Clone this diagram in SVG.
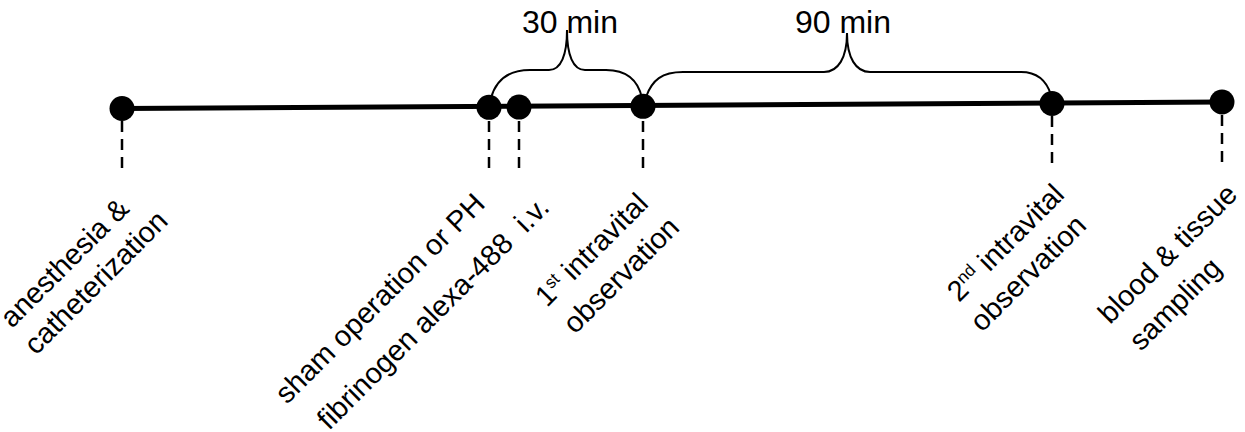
<svg xmlns="http://www.w3.org/2000/svg" width="1245" height="432" viewBox="0 0 1245 432">
<style>
text{font-family:"Liberation Sans",Arial,sans-serif;fill:#000}
.lbl{font-size:29px}
.big{font-size:32px}
.sup{font-size:17px}
.dash{stroke:#000;stroke-width:2.5;stroke-dasharray:11 7;fill:none}
.brace{stroke:#000;stroke-width:2;fill:none}
.dot{fill:#000}
</style>
<rect width="1245" height="432" fill="#fff"/>
<g id="connectors">
<line x1="122" y1="108.5" x2="1222" y2="102" stroke="#000" stroke-width="5"/>
<line class="dash" x1="122" y1="121" x2="122" y2="170"/>
<line class="dash" x1="489" y1="121" x2="489" y2="170"/>
<line class="dash" x1="519" y1="121" x2="519" y2="170"/>
<line class="dash" x1="643" y1="121" x2="643" y2="170"/>
<line class="dash" x1="1052" y1="116" x2="1052" y2="164"/>
<line class="dash" x1="1222" y1="115" x2="1222" y2="163"/>
<path class="brace" d="M491,98 C496,80 508,70 530,70 L549,70 C561,70 567,55 567,30 C567,55 573,70 585,70 L606,70 C626,70 638,80 642,98"/>
<path class="brace" d="M646,97 C652,80 662,72 683,72 L824,72 C838,72 847,58 847,33 C847,58 856,72 870,72 L1021,72 C1038,72 1047,82 1051,95"/>
</g>
<g id="label-30"><text class="big" x="570" y="33" text-anchor="middle">30 min</text></g>
<g id="label-90"><text class="big" x="843" y="33" text-anchor="middle">90 min</text></g>
<g id="n1">
<circle class="dot" cx="122" cy="108.5" r="12.5"/>
<text class="lbl" transform="translate(12,329) rotate(-45)">anesthesia &amp;</text>
<text class="lbl" transform="translate(36,356) rotate(-45)">catheterization</text>
</g>
<g id="n2">
<circle class="dot" cx="489" cy="107.3" r="12.5"/>
<text class="lbl" transform="translate(287,405) rotate(-45)">sham operation or PH</text>
</g>
<g id="n3">
<circle class="dot" cx="519" cy="107.1" r="12.5"/>
<text class="lbl" xml:space="preserve" transform="translate(329,431) rotate(-45)">fibrinogen alexa-488  i.v.</text>
</g>
<g id="n4">
<circle class="dot" cx="643" cy="106.3" r="12.5"/>
<text class="lbl" transform="translate(547,308) rotate(-45)">1<tspan class="sup" dy="-10">st</tspan><tspan dy="10"> intravital</tspan></text>
<text class="lbl" transform="translate(575,335) rotate(-45)">observation</text>
</g>
<g id="n5">
<circle class="dot" cx="1052" cy="103.5" r="12.5"/>
<text class="lbl" transform="translate(959,303) rotate(-45)">2<tspan class="sup" dy="-10">nd</tspan><tspan dy="10"> intravital</tspan></text>
<text class="lbl" transform="translate(982,333) rotate(-45)">observation</text>
</g>
<g id="n6">
<circle class="dot" cx="1222" cy="102" r="12.5"/>
<text class="lbl" transform="translate(1110,325) rotate(-45)">blood &amp; tissue</text>
<text class="lbl" transform="translate(1141,352) rotate(-45)">sampling</text>
</g>
</svg>
